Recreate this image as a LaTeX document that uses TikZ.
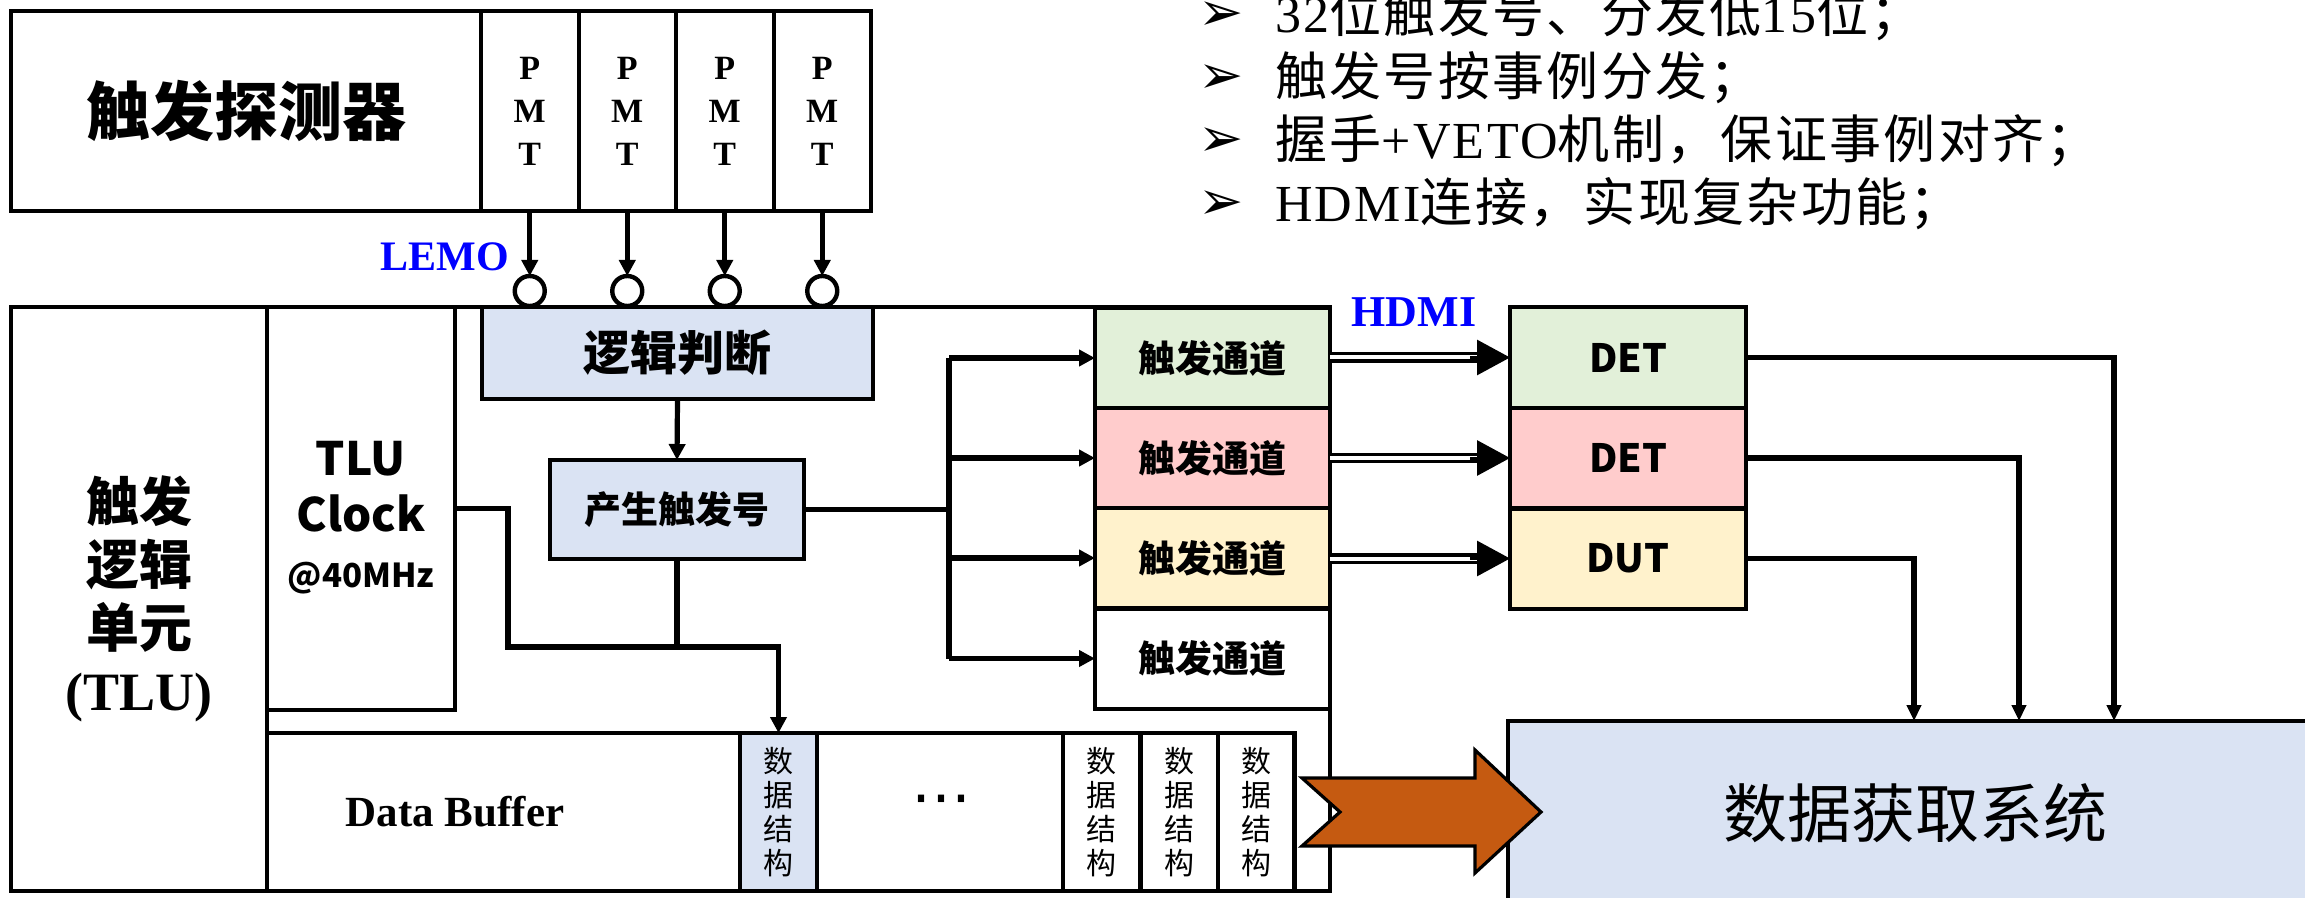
\documentclass[tikz,border=0pt]{standalone}
\usepackage{fontspec}
\setmainfont{Liberation Serif}
\newfontfamily\cjk{Noto Sans CJK SC}
\newfontfamily\cjkw{Noto Sans CJK SC}[LetterSpace=4.5]
\newfontfamily\serw{Liberation Serif}[LetterSpace=4.5]
\newfontfamily\sym{DejaVu Sans}
\usetikzlibrary{arrows.meta,calc}
\definecolor{lblue}{HTML}{DAE3F3}
\definecolor{lgreen}{HTML}{E2F0D9}
\definecolor{lpink}{HTML}{FFCCCC}
\definecolor{lyellow}{HTML}{FFF2CC}
\definecolor{darrow}{HTML}{C55A11}
\definecolor{lblu}{HTML}{0000FF}
\newcommand{\fs}[2]{\fontsize{#1}{#2}\selectfont}
\begin{document}
\begin{tikzpicture}[x=0.5pt,y=-0.5pt,
  box/.style={draw, line width=2pt, inner sep=0pt, outer sep=0pt, align=center},
  conn/.style={line width=2.6pt},
  arr/.style={conn, -{Triangle[length=8pt,width=8pt]}},
  arrq/.style={conn, -{Triangle[length=8pt,width=7pt]}},
  dbl/.style={double, line width=1.7pt, double distance=2pt},
  bigtip/.style={line width=1.5pt, -{Triangle[length=16.5pt,width=17.5pt]}},
  bigarrow/.style={fill=darrow, draw=black, line width=1.6pt, line join=miter},
  cjkb/.style={font=\cjk\bfseries\fs{#1}{#1}},
  lbl/.style={text=lblu, font=\bfseries\fs{#1}{#1}},
  bul/.style={anchor=base west, font=\sym\fs{27pt}{27pt}},
  btxt/.style={anchor=base west, font=\cjkw\fs{26pt}{26pt}},
  dsbox/.style={box, minimum width=38.5pt, minimum height=79pt, font=\cjk\fs{15pt}{17pt}},
  chbox/.style={box, minimum width=117.5pt, minimum height=50pt, font=\cjk\bfseries\fs{18.5pt}{18.5pt}},
  detbox/.style={box, minimum width=118pt, minimum height=50pt, font=\cjk\bfseries\fs{19.5pt}{19.5pt}},
  pmtbox/.style={box, minimum width=48.75pt, minimum height=100pt, font=\bfseries\fs{17pt}{21.5pt}},
  lemo/.style={circle, draw, line width=2.2pt, minimum size=15pt, inner sep=0pt, outer sep=0pt}
]
\useasboundingbox (0,0) rectangle (2305,898);

% ---------- top detector ----------
\node[box, minimum width=235pt, minimum height=100pt, cjkb=32pt] (det) at (246,111) {触发探测器};
\node[pmtbox] (pmt1) at (529.75,111) {P\\M\\T};
\node[pmtbox] (pmt2) at (627.25,111) {P\\M\\T};
\node[pmtbox] (pmt3) at (724.75,111) {P\\M\\T};
\node[pmtbox] (pmt4) at (822.25,111) {P\\M\\T};

\node[lemo] (l1) at (529.75,291) {};
\node[lemo] (l2) at (627.25,291) {};
\node[lemo] (l3) at (724.75,291) {};
\node[lemo] (l4) at (822.25,291) {};
\node[lbl=21pt] (lemolbl) at (445,257) {LEMO};

\draw[arr] (pmt1.south) -- (l1.north);
\draw[arr] (pmt2.south) -- (l2.north);
\draw[arr] (pmt3.south) -- (l3.north);
\draw[arr] (pmt4.south) -- (l4.north);

% ---------- TLU ----------
\node[box, minimum width=659.5pt, minimum height=292pt] (tlu) at (670.5,599) {};
\node[box, minimum width=128pt, minimum height=292pt, font=\cjk\bfseries\fs{26.5pt}{31.5pt}] (tlucol) at (139,599)
  {触发\\逻辑\\单元\\{\rmfamily\bfseries\fs{27pt}{31.5pt}(TLU)}};
\node[box, minimum width=94pt, minimum height=201.5pt] (clk) at (361,508.5) {};
\node[font=\cjk\bfseries\fs{23pt}{28pt}, align=center] (clktxt) at (361,518)
  {TLU\\Clock\\{\fs{16.5pt}{20pt}@40MHz}};
\node[box, fill=lblue, minimum width=195.5pt, minimum height=46pt, cjkb=23.5pt] (logic) at (677.5,353) {逻辑判断};
\node[box, fill=lblue, minimum width=127pt, minimum height=49.5pt, cjkb=18.5pt] (gen) at (677,509.5) {产生触发号};

% data buffer
\node[box, minimum width=513.5pt, minimum height=79pt] (buf) at (780.5,812) {};
\node[font=\bfseries\fs{21.5pt}{21.5pt}] (buftxt) at (455,812) {Data Buffer};
\node[dsbox, fill=lblue] (ds1) at (778.5,812) {数\\据\\结\\构};
\node[font=\sym\fs{30pt}{30pt}] (dots) at (941,806) {⋯};
\node[dsbox] (ds2) at (1101.5,812) {数\\据\\结\\构};
\node[dsbox] (ds3) at (1179,812) {数\\据\\结\\构};
\node[dsbox] (ds4) at (1256,812) {数\\据\\结\\构};

\draw[arr] (logic.south) -- (gen.north);
\coordinate (cj) at (508,647);
\draw[arr] (clk.east) -| (cj) -| (ds1.north);
\draw[conn] (gen.south) -- (gen.south |- cj);

% trigger channels
\node[chbox, fill=lgreen] (ch1) at (1212.5,358) {触发通道};
\node[chbox, fill=lpink] (ch2) at (1212.5,458) {触发通道};
\node[chbox, fill=lyellow] (ch3) at (1212.5,558) {触发通道};
\node[chbox, fill=white] (ch4) at (1212.5,658.5) {触发通道};

\coordinate (bx) at (949,509.5);
\draw[conn] (gen.east) -- (bx);
\draw[conn] (bx |- ch1.west) -- (bx |- ch4.west);
\draw[arr] (bx |- ch1.west) -- (ch1.west);
\draw[arr] (bx |- ch2.west) -- (ch2.west);
\draw[arr] (bx |- ch3.west) -- (ch3.west);
\draw[arr] (bx |- ch4.west) -- (ch4.west);

% DET / DUT
\node[detbox, fill=lgreen] (d1) at (1628,357.5) {DET};
\node[detbox, fill=lpink] (d2) at (1628,458) {DET};
\node[detbox, fill=lyellow] (d3) at (1628,558.5) {DUT};
\node[lbl=22pt] (hdmilbl) at (1414,312) {HDMI};

\draw[dbl] (ch1.east |- d1.west) -- ([xshift=-15pt]d1.west);
\draw[bigtip] ([xshift=-20pt]d1.west) -- (d1.west);
\draw[dbl] (ch2.east |- d2.west) -- ([xshift=-15pt]d2.west);
\draw[bigtip] ([xshift=-20pt]d2.west) -- (d2.west);
\draw[dbl] (ch3.east |- d3.west) -- ([xshift=-15pt]d3.west);
\draw[bigtip] ([xshift=-20pt]d3.west) -- (d3.west);

% DAQ
\node[box, fill=lblue, minimum width=407pt, minimum height=92pt, font=\cjk\fs{32pt}{32pt}] (daq) at (1915,813) {数据获取系统};
\coordinate (q1) at (2114,721);
\coordinate (q2) at (2019,721);
\coordinate (q3) at (1914,721);
\draw[arrq] (d1.east) -| (q1);
\draw[arrq] (d2.east) -| (q2);
\draw[arrq] (d3.east) -| (q3);

% big arrow
\draw[bigarrow] (1302,778) -- (1475,778) -- (1475,750) -- (1541,812) -- (1475,873) -- (1475,846) -- (1302,846) -- (1340,812) -- cycle;

% bullet text
\node[bul] (b1) at (1191,31) {➢};
\node[btxt] (t1) at (1268,33) {{\serw 32}位触发号、分发低{\serw 15}位；};
\node[bul] (b2) at (1191,94) {➢};
\node[btxt] (t2) at (1268,96) {触发号按事例分发；};
\node[bul] (b3) at (1191,157) {➢};
\node[btxt] (t3) at (1268,159) {握手{\serw +VETO}机制，保证事例对齐；};
\node[bul] (b4) at (1191,220) {➢};
\node[btxt] (t4) at (1268,222) {{\serw HDMI}连接，实现复杂功能；};
\end{tikzpicture}
\end{document}
